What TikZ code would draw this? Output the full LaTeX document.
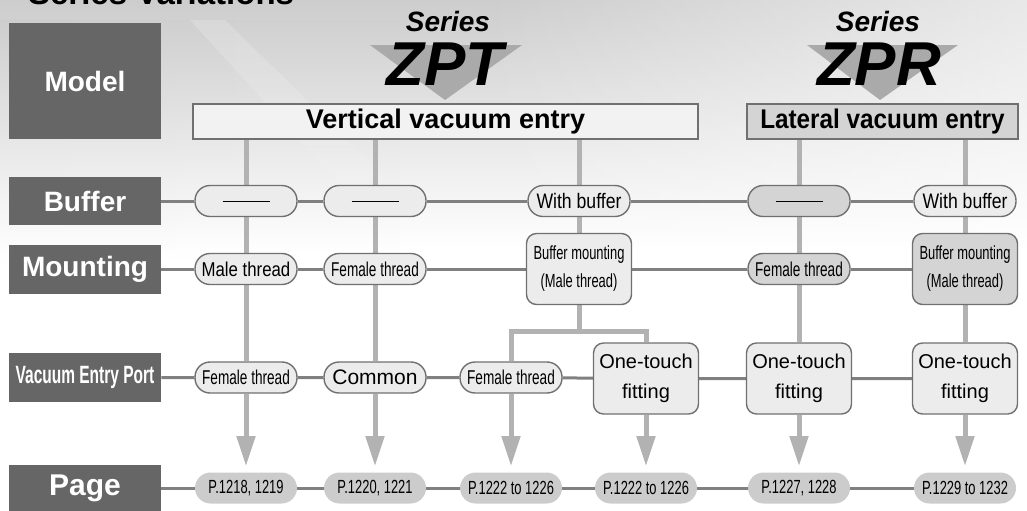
\documentclass[tikz,border=0pt]{standalone}
\usepackage{fontspec}
\setmainfont{Liberation Sans}
\newfontfamily\cnA[FakeStretch=0.84]{Liberation Sans}
\newfontfamily\cnB[FakeStretch=0.68]{Liberation Sans}
\newfontfamily\cnL[FakeStretch=0.9]{Liberation Sans}
\newfontfamily\cnV[FakeStretch=0.62]{Liberation Sans}
\usetikzlibrary{arrows.meta,backgrounds,fadings}
\definecolor{boxgray}{RGB}{102,102,102}
\definecolor{rowgray}{RGB}{128,128,128}
\definecolor{colgray}{RGB}{178,178,178}
\definecolor{edgegray}{RGB}{112,112,112}
\definecolor{lightfill}{RGB}{236,236,236}
\definecolor{zprfill}{RGB}{212,212,212}
\definecolor{pagefill}{RGB}{204,204,204}
\definecolor{trigray}{RGB}{170,170,170}
\definecolor{bggray}{RGB}{205,205,205}
\tikzset{
  rowlabel/.style={fill=boxgray, text=white, minimum width=76pt, inner sep=0pt,
    font=\bfseries\fontsize{14}{16}\selectfont},
  header/.style={draw=edgegray, line width=0.8pt, minimum height=17.5pt, inner sep=0pt,
    font=\bfseries\fontsize{13.5}{15}\selectfont},
  pill/.style={draw=edgegray, line width=0.7pt, fill=lightfill, rounded corners=7.5pt,
    minimum width=51pt, minimum height=15.5pt, inner xsep=2pt, inner ysep=0pt},
  tallbox/.style={pill, rounded corners=5pt, minimum width=52.5pt, minimum height=35.5pt,
    align=center},
  zpr/.style={fill=zprfill},
  pagepill/.style={fill=pagefill, rounded corners=7.75pt, minimum width=51pt,
    minimum height=15.5pt, inner sep=0pt, font=\cnB\fontsize{9.5}{11}\selectfont},
  rowline/.style={draw=rowgray, line width=1.5pt},
  colline/.style={draw=colgray, line width=2.5pt},
  flow/.style={colline, -{Triangle[width=9pt,length=15pt]}, shorten >=3pt},
}
\newcommand{\vide}{\rule{23.5pt}{0.5pt}}
\begin{document}
\begin{tikzpicture}[x=0.5pt, y=-0.5pt]
\useasboundingbox (0,0) rectangle (1027,510);
% Titre
\node[anchor=base west, font=\bfseries\fontsize{16.5}{18}\selectfont] (titre) at (21,4) {Series Variations};
% Etiquettes de gauche
\node[rowlabel, minimum height=58pt] (model) at (85,81) {Model};
\node[rowlabel, minimum height=24pt] (buf) at (85,201) {Buffer};
\node[rowlabel, minimum height=24.5pt] (mnt) at (85,269) {Mounting};
\node[rowlabel, minimum height=24.5pt, font=\cnV\bfseries\fontsize{12.5}{14}\selectfont] (vac) at (85,377.5) {Vacuum Entry Port};
\node[rowlabel, minimum height=23pt, font=\bfseries\fontsize{15}{17}\selectfont] (pg) at (85,488) {Page};
% Series
\fill[trigray] (370,45) -- (522,45) -- (445,100) -- cycle;
\fill[trigray] (807,45) -- (958,45) -- (880,100) -- cycle;
\node[font=\bfseries\itshape\fontsize{14}{16}\selectfont] (sZPT) at (448,21) {Series};
\node[font=\bfseries\itshape\fontsize{31}{33}\selectfont] (ZPT) at (445,64) {ZPT};
\node[font=\bfseries\itshape\fontsize{14}{16}\selectfont] (sZPR) at (878,21) {Series};
\node[font=\bfseries\itshape\fontsize{31}{33}\selectfont] (ZPR) at (879,64) {ZPR};
\node[header, fill=lightfill!70!white, minimum width=252.5pt] (vert) at (445.5,121.5) {Vertical vacuum entry};
\node[header, fill=zprfill, minimum width=135.5pt, font=\cnL\bfseries\fontsize{13.5}{15}\selectfont] (lat) at (882.5,121.5) {Lateral vacuum entry};
% Buffer
\node[pill] (b1) at (246,201) {\vide};
\node[pill] (b2) at (375,201) {\vide};
\node[pill, font=\cnA\fontsize{10.5}{12}\selectfont] (b3) at (579,201) {With buffer};
\node[pill, zpr] (b4) at (799,201) {\vide};
\node[pill, font=\cnA\fontsize{10.5}{12}\selectfont] (b5) at (965,201) {With buffer};
% Mounting
\node[pill, font=\cnA\fontsize{10}{12}\selectfont] (m1) at (246,269) {Male thread};
\node[pill, font=\cnB\fontsize{10}{12}\selectfont] (m2) at (375,269) {Female thread};
\node[tallbox, font=\cnB\fontsize{9.5}{14}\selectfont] (m3) at (579,269) {Buffer mounting\\(Male thread)};
\node[pill, zpr, font=\cnB\fontsize{10}{12}\selectfont] (m4) at (799,269) {Female thread};
\node[tallbox, zpr, font=\cnB\fontsize{9.5}{14}\selectfont] (m5) at (965,269) {Buffer mounting\\(Male thread)};
% Vacuum entry port
\coordinate (j) at (579,331);
\node[pill, font=\cnB\fontsize{10}{12}\selectfont] (v1) at (246,377.5) {Female thread};
\node[pill, font=\fontsize{10.5}{12}\selectfont] (v2) at (375,377.5) {Common};
\node[pill, font=\cnB\fontsize{10}{12}\selectfont] (v3) at (511,377.5) {Female thread};
\node[tallbox, font=\fontsize{10}{15}\selectfont] (v4) at (646,378.5) {One-touch\\fitting};
\node[tallbox, font=\fontsize{10}{15}\selectfont] (v5) at (799,378.5) {One-touch\\fitting};
\node[tallbox, font=\fontsize{10}{15}\selectfont] (v6) at (965,378.5) {One-touch\\fitting};
% Page
\node[pagepill] (p1) at (246,488) {P.1218, 1219};
\node[pagepill] (p2) at (375,488) {P.1220, 1221};
\node[pagepill] (p3) at (511,488) {P.1222 to 1226};
\node[pagepill] (p4) at (646,488) {P.1222 to 1226};
\node[pagepill] (p5) at (799,488) {P.1227, 1228};
\node[pagepill] (p6) at (965,488) {P.1229 to 1232};
% Fond et liaisons
\begin{scope}[on background layer]
  \shade[top color=bggray, bottom color=white] (0,0) rectangle (1027,250);
  \fill[white, opacity=0.55, path fading=west] (480,0) rectangle (1027,250);
  \shade[top color=bggray, bottom color=white, opacity=0.6, path fading=east] (0,20) rectangle (400,265);
  \fill[white, opacity=0.2, path fading=south] (190,20) -- (225,20) -- (460,250) -- (400,250) -- cycle;
  % colonnes
  \draw[colline] (vert.south -| b1) -- (v1);
  \draw[colline] (vert.south -| b2) -- (v2);
  \draw[colline] (vert.south -| b3) -- (j);
  \draw[colline] (v3) |- (j) -| (v4);
  \draw[colline] (lat.south -| b4) -- (v5);
  \draw[colline] (lat.south -| b5) -- (v6);
  \foreach \i in {1,...,6}
    \draw[flow] (v\i) -- (p\i);
  % lignes
  \draw[rowline] (buf) -- (b1) -- (b2) -- (b3) -- (b4) -- (b5);
  \draw[rowline] (mnt) -- (m1) -- (m2) -- (m3) -- (m4) -- (m5);
  \draw[rowline] (vac) -- (v1) -- (v2) -- (v3) -- (v4) -- (v5) -- (v6);
  \draw[rowline] (pg) -- (p1) -- (p2) -- (p3) -- (p4) -- (p5) -- (p6);
\end{scope}
\end{tikzpicture}
\end{document}
